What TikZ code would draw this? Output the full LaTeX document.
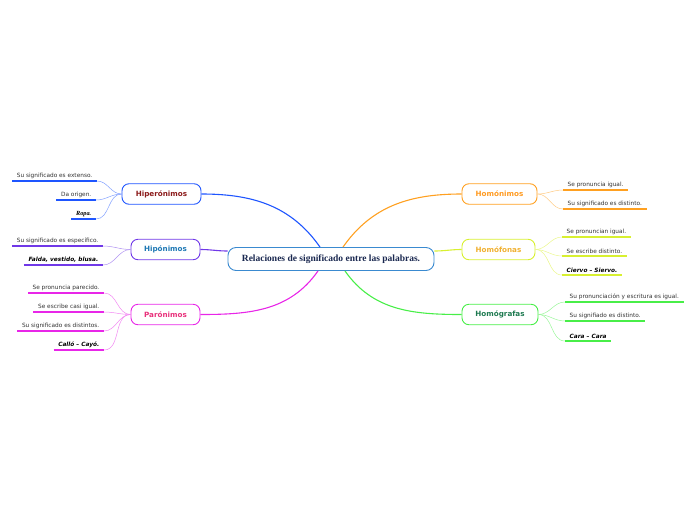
\documentclass[tikz,border=0pt]{standalone}
\usepackage{fontspec}
\setmainfont{DejaVu Sans}
\newfontfamily\titlefont{Liberation Serif}
\usetikzlibrary{positioning}
\definecolor{cenline}{HTML}{3A8AD0}
\definecolor{centext}{HTML}{1A2850}
\definecolor{hiper}{HTML}{1E55FF}
\definecolor{hipertext}{HTML}{8B1A1A}
\definecolor{hipo}{HTML}{7038E8}
\definecolor{hipotext}{HTML}{1E78B4}
\definecolor{paro}{HTML}{E826E8}
\definecolor{parotext}{HTML}{E8307A}
\definecolor{homo}{HTML}{FFA020}
\definecolor{homotext}{HTML}{FF9A20}
\definecolor{fona}{HTML}{D8F030}
\definecolor{fonatext}{HTML}{F0B030}
\definecolor{graf}{HTML}{48EE48}
\definecolor{graftext}{HTML}{1E7A50}
\definecolor{leaftext}{HTML}{333333}
\begin{document}
\begin{tikzpicture}[x=1pt,y=-1pt,font=\fontsize{5.8}{7}\selectfont,
    central/.style={draw=cenline,line width=0.9pt,rounded corners=8pt,minimum width=206pt,minimum height=23pt,inner sep=0pt,text=centext,font=\titlefont\bfseries\fontsize{9.5}{11}\selectfont},
    topic/.style={draw=#1,line width=0.9pt,rounded corners=7pt,minimum height=20.5pt,inner sep=0pt,font=\fontsize{7.2}{8}\selectfont\bfseries},
    leafl/.style={anchor=south east,inner xsep=4.5pt,inner ysep=2pt,text=leaftext},
    leafr/.style={anchor=south west,inner xsep=4.5pt,inner ysep=2pt,text=leaftext},
    ex/.style={font=\fontsize{5.8}{7}\selectfont\bfseries\itshape,text=black},
    uline/.style={draw=#1,line width=1.4pt},
    branch/.style={draw=#1,line width=1.1pt},
    twig/.style={draw=#1!55,line width=0.5pt}]
\useasboundingbox (0,0) rectangle (696,520);
\node[central] (cen) at (331,259) {Relaciones de significado entre las palabras.};
% temas
\node[topic=hiper,minimum width=79pt,text=hipertext] (hiper) at (161.5,194) {Hiperónimos};
\node[topic=hipo,minimum width=69pt,text=hipotext] (hipo) at (165.5,249.5) {Hipónimos};
\node[topic=paro,minimum width=69pt,text=parotext] (paro) at (165.5,314.5) {Parónimos};
\node[topic=homo,minimum width=75pt,text=homotext] (homo) at (499.5,194) {Homónimos};
\node[topic=fona,minimum width=73pt,text=fonatext] (fona) at (498.5,249.5) {Homófonas};
\node[topic=graf,minimum width=76pt,text=graftext] (graf) at (500,314.5) {Homógrafas};
\draw[branch=hiper] (hiper.east) to[out=0,in=125] ([xshift=-11pt]cen.north);
\draw[branch=hipo] (hipo.east) to[out=0,in=180] ([yshift=8pt]cen.west);
\draw[branch=paro] (paro.east) to[out=0,in=-125] ([xshift=-13pt]cen.south);
\draw[branch=homo] (homo.west) to[out=180,in=55] ([xshift=12pt]cen.north);
\draw[branch=fona] (fona.west) to[out=180,in=0] ([yshift=8pt]cen.east);
\draw[branch=graf] (graf.west) to[out=180,in=-55] ([xshift=14pt]cen.south);
% hojas izquierda
\node[leafl] (h1) at (97,181) {Su significado es extenso.};
\node[leafl] (h2) at (96,200) {Da origen.};
\node[leafl,ex,font=\titlefont\bfseries\itshape\fontsize{6.3}{7}\selectfont] (h3) at (96,219) {Ropa.};
\node[leafl] (p1) at (103,246) {Su significado es específico.};
\node[leafl,ex] (p2) at (103,265) {Falda, vestido, blusa.};
\node[leafl] (r1) at (104,293) {Se pronuncia parecido.};
\node[leafl] (r2) at (104,312) {Se escribe casi igual.};
\node[leafl] (r3) at (104,331) {Su significado es distintos.};
\node[leafl,ex] (r4) at (104,350) {Calló – Cayó.};
% hojas derecha
\node[leafr] (m1) at (563,190) {Se pronuncia igual.};
\node[leafr] (m2) at (563,209) {Su significado es distinto.};
\node[leafr] (f1) at (562,237) {Se pronuncian igual.};
\node[leafr] (f2) at (562,256) {Se escribe distinto.};
\node[leafr,ex] (f3) at (562,275) {Ciervo – Siervo.};
\node[leafr] (g1) at (565,302) {Su pronunciación y escritura es igual.};
\node[leafr] (g2) at (565,321) {Su signifiado es distinto.};
\node[leafr,ex] (g3) at (565,341) {Cara – Cara};
\foreach \l/\t/\c in {h1/hiper/hiper,h2/hiper/hiper,h3/hiper/hiper,p1/hipo/hipo,p2/hipo/hipo,r1/paro/paro,r2/paro/paro,r3/paro/paro,r4/paro/paro}{
  \draw[uline=\c] (\l.south west) -- (\l.south east);
  \draw[twig=\c] (\t.west) to[out=180,in=0] (\l.south east);
}
\foreach \l/\t/\c in {m1/homo/homo,m2/homo/homo,f1/fona/fona,f2/fona/fona,f3/fona/fona,g1/graf/graf,g2/graf/graf,g3/graf/graf}{
  \draw[uline=\c] (\l.south west) -- (\l.south east);
  \draw[twig=\c] (\t.east) to[out=0,in=180] (\l.south west);
}
\end{tikzpicture}
\end{document}
